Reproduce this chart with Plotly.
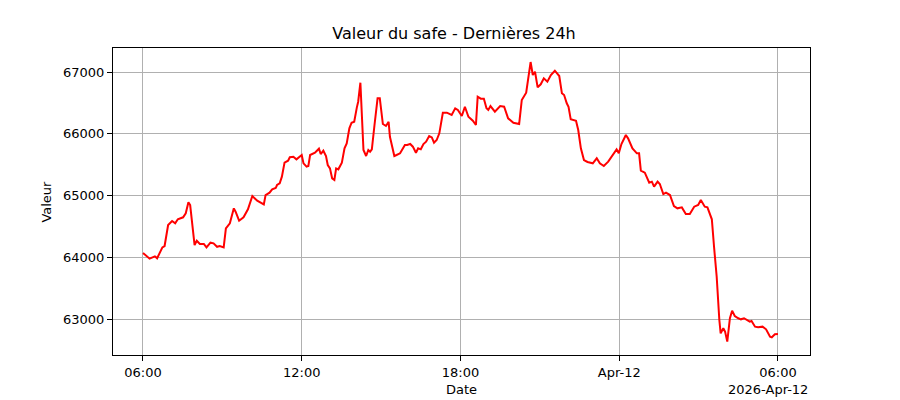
import plotly.graph_objects as go

# (time, value)
times = [
    "2026-04-11 06:00", "2026-04-11 06:15", "2026-04-11 06:27", "2026-04-11 06:32",
    "2026-04-11 06:44", "2026-04-11 06:49", "2026-04-11 06:57", "2026-04-11 07:06",
    "2026-04-11 07:13", "2026-04-11 07:19", "2026-04-11 07:31", "2026-04-11 07:37",
    "2026-04-11 07:43", "2026-04-11 07:47", "2026-04-11 07:57", "2026-04-11 08:02",
    "2026-04-11 08:09", "2026-04-11 08:18", "2026-04-11 08:24", "2026-04-11 08:33",
    "2026-04-11 08:40", "2026-04-11 08:48", "2026-04-11 08:54", "2026-04-11 09:03",
    "2026-04-11 09:08", "2026-04-11 09:17", "2026-04-11 09:26", "2026-04-11 09:30",
    "2026-04-11 09:38", "2026-04-11 09:48", "2026-04-11 09:58", "2026-04-11 10:08",
    "2026-04-11 10:19", "2026-04-11 10:28", "2026-04-11 10:34", "2026-04-11 10:38",
    "2026-04-11 10:47", "2026-04-11 10:53", "2026-04-11 11:01", "2026-04-11 11:04",
    "2026-04-11 11:10", "2026-04-11 11:15", "2026-04-11 11:21", "2026-04-11 11:29",
    "2026-04-11 11:33", "2026-04-11 11:41", "2026-04-11 11:48", "2026-04-11 12:00",
    "2026-04-11 12:04", "2026-04-11 12:11", "2026-04-11 12:15", "2026-04-11 12:19",
    "2026-04-11 12:30", "2026-04-11 12:39", "2026-04-11 12:43", "2026-04-11 12:49",
    "2026-04-11 12:55", "2026-04-11 12:59", "2026-04-11 13:04", "2026-04-11 13:09",
    "2026-04-11 13:14", "2026-04-11 13:18", "2026-04-11 13:23", "2026-04-11 13:31",
    "2026-04-11 13:37", "2026-04-11 13:42", "2026-04-11 13:48", "2026-04-11 13:53",
    "2026-04-11 13:59", "2026-04-11 14:05", "2026-04-11 14:08", "2026-04-11 14:13",
    "2026-04-11 14:16", "2026-04-11 14:20", "2026-04-11 14:26", "2026-04-11 14:31",
    "2026-04-11 14:35", "2026-04-11 14:39", "2026-04-11 14:45", "2026-04-11 14:52",
    "2026-04-11 14:57", "2026-04-11 15:04", "2026-04-11 15:11", "2026-04-11 15:17",
    "2026-04-11 15:20", "2026-04-11 15:24", "2026-04-11 15:30", "2026-04-11 15:35",
    "2026-04-11 15:43", "2026-04-11 15:54", "2026-04-11 15:59", "2026-04-11 16:06",
    "2026-04-11 16:12", "2026-04-11 16:19", "2026-04-11 16:24", "2026-04-11 16:30",
    "2026-04-11 16:36", "2026-04-11 16:42", "2026-04-11 16:49", "2026-04-11 16:55",
    "2026-04-11 17:00", "2026-04-11 17:06", "2026-04-11 17:12", "2026-04-11 17:20",
    "2026-04-11 17:29", "2026-04-11 17:40", "2026-04-11 17:48", "2026-04-11 17:54",
    "2026-04-11 18:03", "2026-04-11 18:10", "2026-04-11 18:18", "2026-04-11 18:28",
    "2026-04-11 18:35", "2026-04-11 18:39", "2026-04-11 18:46", "2026-04-11 18:53",
    "2026-04-11 18:59", "2026-04-11 19:03", "2026-04-11 19:08", "2026-04-11 19:18",
    "2026-04-11 19:30", "2026-04-11 19:39", "2026-04-11 19:48", "2026-04-11 20:00",
    "2026-04-11 20:13", "2026-04-11 20:19", "2026-04-11 20:29", "2026-04-11 20:39",
    "2026-04-11 20:44", "2026-04-11 20:49", "2026-04-11 20:55", "2026-04-11 21:02",
    "2026-04-11 21:09", "2026-04-11 21:17", "2026-04-11 21:25", "2026-04-11 21:34",
    "2026-04-11 21:44", "2026-04-11 21:50", "2026-04-11 21:55", "2026-04-11 22:01",
    "2026-04-11 22:05", "2026-04-11 22:10", "2026-04-11 22:22", "2026-04-11 22:27",
    "2026-04-11 22:33", "2026-04-11 22:40", "2026-04-11 22:48", "2026-04-11 23:00",
    "2026-04-11 23:09", "2026-04-11 23:16", "2026-04-11 23:25", "2026-04-11 23:35",
    "2026-04-11 23:47", "2026-04-11 23:54", "2026-04-11 23:59", "2026-04-12 00:05",
    "2026-04-12 00:15", "2026-04-12 00:20", "2026-04-12 00:30", "2026-04-12 00:40",
    "2026-04-12 00:45", "2026-04-12 00:49", "2026-04-12 00:58", "2026-04-12 01:08",
    "2026-04-12 01:14", "2026-04-12 01:19", "2026-04-12 01:27", "2026-04-12 01:32",
    "2026-04-12 01:40", "2026-04-12 01:46", "2026-04-12 01:55", "2026-04-12 02:04",
    "2026-04-12 02:12", "2026-04-12 02:22", "2026-04-12 02:31", "2026-04-12 02:40",
    "2026-04-12 02:50", "2026-04-12 02:59", "2026-04-12 03:05", "2026-04-12 03:14",
    "2026-04-12 03:20", "2026-04-12 03:30", "2026-04-12 03:35", "2026-04-12 03:41",
    "2026-04-12 03:47", "2026-04-12 03:50", "2026-04-12 03:56", "2026-04-12 04:00",
    "2026-04-12 04:05", "2026-04-12 04:11", "2026-04-12 04:16", "2026-04-12 04:22",
    "2026-04-12 04:30", "2026-04-12 04:36", "2026-04-12 04:43", "2026-04-12 04:50",
    "2026-04-12 04:56", "2026-04-12 05:00", "2026-04-12 05:08", "2026-04-12 05:15",
    "2026-04-12 05:25", "2026-04-12 05:33", "2026-04-12 05:42", "2026-04-12 05:46",
    "2026-04-12 05:53", "2026-04-12 06:00",
]

values = [
    64070, 63977, 64015, 63983, 64160, 64182, 64522, 64587,
    64550, 64615, 64647, 64712, 64890, 64846, 64198, 64268,
    64215, 64215, 64160, 64236, 64225, 64170, 64182, 64160,
    64467, 64550, 64792, 64738, 64592, 64647, 64776, 64992,
    64916, 64883, 64857, 65008, 65046, 65100, 65121, 65170,
    65197, 65305, 65532, 65564, 65620, 65628, 65586, 65656,
    65521, 65467, 65478, 65656, 65693, 65758, 65672, 65726,
    65640, 65494, 65440, 65278, 65251, 65440, 65424, 65532,
    65764, 65845, 66088, 66179, 66195, 66428, 66519, 66827,
    66276, 65737, 65640, 65737, 65710, 65748, 66142, 66574,
    66574, 66158, 66126, 66195, 65952, 65802, 65640, 65656,
    65683, 65818, 65818, 65834, 65791, 65693, 65764, 65748,
    65834, 65872, 65964, 65942, 65856, 65899, 66007, 66341,
    66341, 66304, 66412, 66385, 66287, 66438, 66276, 66211,
    66142, 66600, 66568, 66568, 66412, 66385, 66449, 66357,
    66449, 66438, 66250, 66179, 66158, 66547, 66665, 67162,
    66951, 67005, 66752, 66801, 66898, 66843, 66951, 67021,
    66935, 66655, 66628, 66493, 66438, 66234, 66211, 66061,
    65764, 65575, 65543, 65521, 65602, 65521, 65478, 65548,
    65683, 65748, 65683, 65834, 65980, 65926, 65764, 65683,
    65683, 65402, 65370, 65207, 65224, 65143, 65224, 65186,
    65024, 65046, 65008, 64830, 64792, 64808, 64700, 64700,
    64819, 64846, 64927, 64819, 64808, 64615, 64170, 63685,
    62984, 62768, 62849, 62795, 62633, 63012, 63135, 63049,
    63012, 62995, 63012, 62984, 62957, 62968, 62876, 62865,
    62876, 62833, 62714, 62703, 62752, 62757,
]

tick_times = ["2026-04-11 06:00", "2026-04-11 12:00", "2026-04-11 18:00",
              "2026-04-12 00:00", "2026-04-12 06:00"]
tick_labels = ["06:00", "12:00", "18:00", "Apr-12", "06:00"]
y_ticks = [63000, 64000, 65000, 66000, 67000]

font = "DejaVu Sans"

fig = go.Figure(
    go.Scatter(
        x=times,
        y=values,
        mode="lines",
        line=dict(color="red", width=2),
        hoverinfo="x+y",
    )
)

axis_style = dict(
    showline=True,
    mirror=True,
    linecolor="black",
    linewidth=1,
    ticks="outside",
    ticklen=5,
    tickcolor="black",
    showgrid=True,
    gridcolor="#b0b0b0",
    gridwidth=1,
    zeroline=False,
    automargin=False,
    tickfont=dict(family=font, size=13, color="black"),
)

label_font = dict(family=font, size=13, color="black")

# the page body adds an 8px offset, so the figure is a bit smaller than the window
fig.update_layout(
    width=892,
    height=392,
    plot_bgcolor="white",
    paper_bgcolor="white",
    showlegend=False,
    margin=dict(l=105, r=90, t=40, b=45),
    title=dict(
        text="Valeur du safe - Dernières 24h",
        x=0.5,
        xanchor="center",
        y=0.934,
        yanchor="middle",
        font=dict(family=font, size=16, color="black"),
    ),
    xaxis=dict(
        axis_style,
        type="date",
        range=["2026-04-11 04:52", "2026-04-12 07:12:36"],
        tickvals=tick_times,
        ticktext=tick_labels,
    ),
    yaxis=dict(
        axis_style,
        range=[62417, 67389],
        tickvals=y_ticks,
        tickformat="d",
    ),
    annotations=[
        dict(text="Date", xref="paper", yref="paper", x=0.5, y=-0.114,
             xanchor="center", yanchor="middle", showarrow=False, font=label_font),
        dict(text="Valeur", xref="paper", yref="paper", x=-0.096, y=0.5,
             xanchor="center", yanchor="middle", textangle=-90, showarrow=False,
             font=label_font),
        dict(text="2026-Apr-12", xref="paper", yref="paper", x=1.0, y=-0.113,
             xanchor="right", yanchor="middle", showarrow=False, font=label_font),
    ],
)

fig.write_html("out.html")
